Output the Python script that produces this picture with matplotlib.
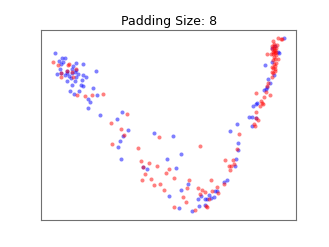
import matplotlib
matplotlib.use("Agg")
import matplotlib.pyplot as plt

blue_x = [55.0, 61.7, 65.3, 58.7, 63.3, 61.0, 76.3, 83.3, 60.0, 72.7, 67.3, 71.7, 75.7, 57.3, 60.7, 64.7, 67.3, 69.3,
          71.7, 74.7, 78.3, 82.7, 86.3, 95.7, 70.7, 76.0, 81.7, 75.0, 67.3, 71.7, 80.7, 82.7, 92.7, 70.0, 79.3, 74.0,
          97.0, 88.3, 90.3, 88.3, 100.0, 121.7, 117.3,
          128.0, 123.3, 120.0, 118.0, 121.0,
          154.3, 173.0, 238.0, 238.7, 181.3, 167.0, 236.7, 175.7, 147.3, 143.3, 235.3, 227.7, 224.7, 188.3, 180.7,
          169.3, 217.0, 215.7, 201.7, 209.7, 214.0, 211.7, 198.0, 205.7, 207.7, 205.3, 199.0, 178.7, 192.0, 237.0, 230.3,
          284.3, 272.0, 275.0, 278.7, 279.3, 272.7, 265.0, 274.0, 268.3, 270.0, 267.7, 266.3, 264.7, 257.7, 256.0,
          253.7, 252.7, 249.7, 256.0, 252.0]
blue_y = [52.7, 58.3, 57.7, 61.3, 61.7, 64.3, 63.0, 64.0, 68.7, 66.0, 70.7, 69.0, 70.0, 74.0, 72.7, 75.3, 73.3, 76.0,
          72.7, 72.0, 74.3, 75.3, 77.3, 71.3, 78.3, 77.3, 80.0, 81.0, 81.3, 84.7, 84.7, 86.3, 88.3, 91.0, 91.3, 93.7,
          95.0, 98.7, 101.7, 108.3, 114.7, 112.3, 119.3,
          130.0, 135.7, 141.0, 147.0, 159.3,
          133.3, 136.0, 143.3, 150.0, 153.7, 158.7, 159.0, 168.0, 169.3, 167.0, 166.3, 179.7, 182.3, 184.0, 190.0,
          196.3, 191.0, 191.0, 196.3, 195.0, 196.7, 197.7, 199.0, 199.0, 199.0, 204.7, 206.0, 207.7, 211.0, 124.0, 130.7,
          38.3, 48.3, 45.7, 51.7, 53.3, 62.3, 65.0, 75.0, 79.3, 83.3, 87.3, 89.3, 90.3, 103.3, 104.0,
          106.0, 116.7, 117.3, 118.0, 125.7]

red_x = [52.7, 57.7, 69.3, 67.7, 76.3, 66.7, 72.3, 60.7, 61.0, 72.7, 77.3, 84.7, 92.0, 102.7, 127.0,
         111.3, 121.0, 123.7, 112.3, 138.3, 140.7,
         158.7, 239.3, 200.7, 237.7, 149.3, 225.7, 233.7, 234.3, 229.7, 231.7, 156.7, 142.7, 169.0, 230.3, 166.3, 144.7,
         174.0, 142.3, 150.7, 211.7, 189.3, 160.3, 154.0, 224.3, 217.3, 187.3, 198.3, 163.7, 202.3, 205.0, 212.3,
         200.3, 218.3, 183.3, 209.7, 185.7, 174.0, 206.3, 207.3, 195.0,
         278.3, 281.0, 273.3, 282.7, 274.3, 277.7, 276.7, 272.7, 275.3, 273.3, 275.0, 271.7, 267.7, 276.7, 274.0,
         278.7, 275.0, 276.0, 275.0, 273.3, 272.7, 275.0, 272.7, 267.3, 266.7, 256.0, 270.0, 264.3, 262.0, 260.0,
         256.0, 256.7, 258.3, 254.3, 255.0,
         274.7, 276.0, 273.0, 274.5, 272.0, 273.5, 274.0, 272.5, 275.5, 274.3, 273.6, 268.0, 261.5, 263.0]
red_y = [62.3, 65.3, 64.0, 65.3, 69.3, 71.0, 71.7, 73.0, 77.3, 77.0, 95.0, 96.3, 94.7, 94.0, 114.3,
         123.3, 128.7, 134.7, 144.0, 147.7, 161.0,
         137.3, 134.0, 146.3, 148.7, 163.0, 159.7, 160.3, 164.3, 166.0, 166.0, 166.0, 167.3, 168.7, 169.7, 172.7, 173.7,
         178.0, 179.7, 179.3, 179.7, 180.0, 184.0, 185.3, 184.3, 187.0, 188.0, 187.7, 190.0, 190.0, 192.0, 190.7,
         193.7, 193.0, 196.7, 199.3, 202.3, 206.7, 206.0, 206.7, 209.7,
         38.3, 39.0, 40.7, 39.0, 44.0, 45.0, 47.7, 49.0, 50.0, 52.3, 53.0, 54.3, 54.3, 55.0, 56.7,
         58.7, 59.3, 62.7, 66.0, 68.3, 71.7, 71.0, 77.3, 85.7, 91.7, 93.3, 95.3, 96.7, 102.7, 106.0,
         111.7, 117.7, 120.0, 124.0, 126.3,
         46.5, 52.0, 54.0, 51.0, 46.0, 60.5, 64.5, 67.0, 69.0, 48.5, 73.0, 83.5, 101.5, 104.0]

fig = plt.figure(figsize=(3.29, 2.47), dpi=100)
ax = fig.add_axes([0.125, 0.11, 0.775, 0.77])
ax.scatter(blue_x, blue_y, s=8.5, c="blue", alpha=0.5, linewidths=0)
ax.scatter(red_x, red_y, s=8.5, c="red", alpha=0.5, linewidths=0)
ax.set_xlim(41, 296.5)
ax.set_ylim(219.8, 29.8)
ax.set_xticks([])
ax.set_yticks([])
for s in ax.spines.values():
    s.set_linewidth(0.8)
    s.set_color("#707070")
ax.set_title("Padding Size: 8", fontsize=9.0, pad=3)
fig.savefig("out.png", dpi=100)
